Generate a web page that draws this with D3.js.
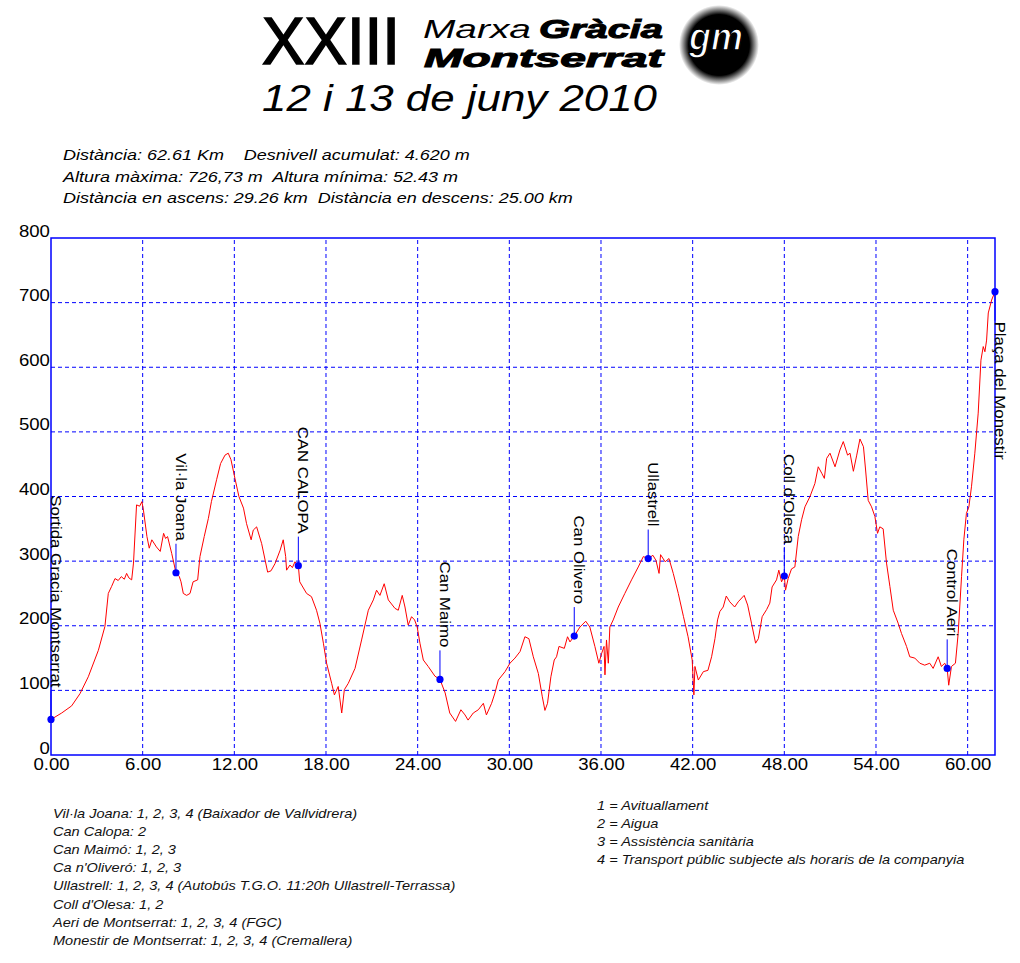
<!DOCTYPE html>
<html>
<head>
<meta charset="utf-8">
<script src="https://cdn.jsdelivr.net/npm/d3@7.9.0/dist/d3.min.js"></script>
<style>
  body { margin: 0; background: #fff; }
  svg text { font-family: Arial, "Liberation Sans", sans-serif; }
</style>
</head>
<body>
<svg id="chart" width="1020" height="963"></svg>
<script>
// profile: distance (km) and altitude (m)
const dist = [0, 0.7, 1.35, 1.9, 2.44, 3.1, 3.53, 3.75, 3.97, 4.19, 4.4, 4.6, 4.8, 4.95, 5.1, 5.28, 5.4, 5.6, 5.8, 5.95,
  6.05, 6.28, 6.43, 6.6, 6.9, 7.15, 7.37, 7.5, 7.63, 7.9, 8.18, 8.4, 8.51, 8.66, 8.88, 9.1, 9.3, 9.6, 9.75, 10.03,
  10.3, 10.5, 10.84, 11.1, 11.39, 11.6, 11.78, 12.04, 12.3, 12.6, 12.8, 13.1, 13.24, 13.46, 13.79, 14.18, 14.4, 14.66, 15.0, 15.2,
  15.36, 15.42, 15.64, 15.8, 15.97, 16.19, 16.28, 16.73, 17.05, 17.38, 17.6, 17.83, 18.04, 18.37, 18.55, 18.8, 19.03, 19.2, 19.46, 19.9,
  20.33, 20.77, 21.1, 21.31, 21.53, 21.81, 22.08, 22.51, 22.73, 22.99, 23.17, 23.38, 23.6, 23.8, 23.97, 24.15, 24.37, 24.69, 25.13, 25.46,
  25.8, 26.1, 26.48, 26.83, 27.1, 27.3, 27.64, 27.97, 28.3, 28.5, 28.84, 29.06, 29.28, 29.72, 30.04, 30.37, 30.7, 31.02, 31.28, 31.57,
  31.9, 32.16, 32.33, 32.5, 32.72, 32.94, 33.09, 33.25, 33.6, 33.81, 33.97, 34.25, 34.62, 35.0, 35.27, 35.6, 35.86, 36.04, 36.2, 36.26,
  36.36, 36.48, 36.58, 36.8, 37.13, 37.56, 38.0, 38.44, 38.77, 39.09, 39.4, 39.6, 39.8, 39.9, 40.2, 40.45, 40.73, 41.06, 41.4, 41.7,
  41.97, 42.08, 42.15, 42.37, 42.7, 43.0, 43.24, 43.46, 43.63, 43.78, 44.0, 44.2, 44.43, 44.75, 44.98, 45.37, 45.6, 45.85, 46.12, 46.3,
  46.55, 46.84, 47.05, 47.2, 47.49, 47.64, 47.82, 48.0, 48.08, 48.25, 48.47, 48.69, 48.91, 49.13, 49.35, 49.68, 50.0, 50.22, 50.45, 50.62,
  50.77, 50.99, 51.32, 51.64, 51.86, 52.14, 52.3, 52.52, 52.74, 52.95, 53.18, 53.32, 53.49, 53.71, 53.93, 54.1, 54.25, 54.47, 54.69, 54.91,
  55.13, 55.45, 55.67, 56.0, 56.21, 56.54, 56.87, 57.19, 57.52, 57.74, 58.07, 58.28, 58.5, 58.66, 58.76, 58.94, 59.2, 59.38, 59.6, 59.75,
  59.92, 60.08, 60.25, 60.47, 60.69, 60.87, 61.02, 61.13, 61.24, 61.35, 61.57, 61.79];
const elev = [55, 65, 76, 95, 121, 162, 199, 250, 261, 273, 270, 276, 272, 281, 274, 271, 297, 387, 385, 392,
  379, 338, 320, 333, 322, 315, 343, 335, 338, 312, 282, 276, 268, 250, 247, 250, 268, 271, 307, 338,
  366, 392, 426, 451, 464, 467, 457, 428, 400, 382, 358, 333, 348, 353, 327, 283, 285, 296, 317, 333,
  307, 286, 294, 290, 299, 293, 268, 250, 245, 224, 204, 173, 142, 111, 93, 106, 65, 101, 111, 134,
  178, 224, 240, 255, 247, 265, 240, 227, 224, 247, 229, 201, 214, 209, 198, 173, 147, 137, 122, 117,
  96, 65, 52, 70, 62, 54, 65, 70, 80, 62, 80, 96, 116, 129, 142, 150, 160, 183, 180, 152,
  126, 90, 69, 80, 121, 147, 152, 168, 165, 183, 175, 184, 198, 207, 198, 168, 142, 157, 168, 124,
  178, 142, 198, 209, 229, 250, 271, 291, 307, 304, 309, 301, 281, 310, 299, 304, 281, 250, 214, 183,
  147, 93, 137, 116, 129, 131, 152, 180, 209, 222, 229, 246, 237, 229, 237, 247, 232, 204, 173, 180,
  214, 225, 235, 260, 271, 286, 268, 277, 255, 273, 288, 291, 338, 364, 384, 400, 420, 446, 436, 428,
  459, 467, 446, 472, 485, 464, 467, 439, 464, 489, 477, 441, 394, 384, 369, 343, 353, 350, 297, 261,
  224, 204, 188, 168, 152, 150, 142, 139, 142, 134, 152, 137, 142, 134, 108, 137, 142, 188, 276, 333,
  374, 384, 415, 467, 529, 611, 632, 624, 642, 684, 704, 717];

// waypoints
const wpNames = ['Sortida Gracia Montserrat', 'Vil·la Joana', 'CAN CALOPA', 'Can Maimo', 'Can Olivero',
  'Ullastrell', "Coll d'Olesa", 'Control Aeri', 'Plaça del Monestir'];
const wpDist = [0, 8.18, 16.19, 25.46, 34.25, 39.09, 48.0, 58.66, 61.79];
const wpElev = [55, 282, 293, 117, 184, 304, 277, 134, 717];

const xTicks = [0, 6, 12, 18, 24, 30, 36, 42, 48, 54, 60];
const yTicks = [0, 100, 200, 300, 400, 500, 600, 700, 800];

const statsLines = [
  'Distància: 62.61 Km    Desnivell acumulat: 4.620 m',
  'Altura màxima: 726,73 m  Altura mínima: 52.43 m',
  'Distància en ascens: 29.26 km  Distància en descens: 25.00 km'
];
const stopsLines = [
  'Vil·la Joana: 1, 2, 3, 4 (Baixador de Vallvidrera)',
  'Can Calopa: 2',
  'Can Maimó: 1, 2, 3',
  "Ca n'Oliveró: 1, 2, 3",
  'Ullastrell: 1, 2, 3, 4 (Autobús T.G.O. 11:20h Ullastrell-Terrassa)',
  "Coll d'Olesa: 1, 2",
  'Aeri de Montserrat: 1, 2, 3, 4 (FGC)',
  'Monestir de Montserrat: 1, 2, 3, 4 (Cremallera)'
];
const keyLines = [
  '1 = Avituallament',
  '2 = Aigua',
  '3 = Assistència sanitària',
  '4 = Transport públic subjecte als horaris de la companyia'
];

const svg = d3.select('#chart');
const blue = '#0000ff';
const wide = 1.2; // the original font is wider than Arial

// ---- title block ----
const head = svg.append('g');
head.append('text').attr('x', 262).attr('y', 63.5).attr('font-size', 66)
  .attr('stroke', '#000').attr('stroke-width', 1.6)
  .attr('textLength', 138).attr('lengthAdjust', 'spacingAndGlyphs').text('XXIII');
head.append('text').attr('x', 423).attr('y', 38).attr('font-size', 26).attr('font-style', 'italic')
  .attr('textLength', 108).attr('lengthAdjust', 'spacingAndGlyphs').text('Marxa');
head.append('text').attr('x', 539).attr('y', 38).attr('font-size', 26).attr('font-style', 'italic')
  .attr('font-weight', 900).attr('stroke', '#000').attr('stroke-width', 1)
  .attr('textLength', 124).attr('lengthAdjust', 'spacingAndGlyphs').text('Gràcia');
head.append('text').attr('x', 424).attr('y', 67).attr('font-size', 26).attr('font-style', 'italic')
  .attr('font-weight', 900).attr('stroke', '#000').attr('stroke-width', 1)
  .attr('textLength', 239).attr('lengthAdjust', 'spacingAndGlyphs').text('Montserrat');
head.append('text').attr('x', 262).attr('y', 111).attr('font-size', 37).attr('font-style', 'italic')
  .attr('textLength', 395).attr('lengthAdjust', 'spacingAndGlyphs').text('12 i 13 de juny 2010');

const grad = svg.append('defs').append('radialGradient').attr('id', 'gmfade');
grad.append('stop').attr('offset', '0%').attr('stop-color', '#000');
grad.append('stop').attr('offset', '76%').attr('stop-color', '#000');
grad.append('stop').attr('offset', '100%').attr('stop-color', '#fff');
head.append('circle').attr('cx', 719).attr('cy', 45).attr('r', 40).attr('fill', 'url(#gmfade)');
head.append('text').attr('x', 716).attr('y', 50).attr('text-anchor', 'middle')
  .attr('font-size', 38).attr('font-weight', 'bold').attr('font-style', 'italic')
  .attr('fill', '#fff').attr('stroke', '#000').attr('stroke-width', 1.5)
  .attr('textLength', 54).attr('lengthAdjust', 'spacingAndGlyphs').text('gm');

// ---- stats ----
statsLines.forEach((s, i) => {
  svg.append('text')
    .attr('transform', `translate(63,${160 + i * 21.5}) scale(${wide},1)`)
    .attr('font-size', 15).attr('font-style', 'italic')
    .style('white-space', 'pre').text(s);
});

// ---- plot ----
const x = d3.scaleLinear().domain([0, 61.79]).range([51, 995]);
const y = d3.scaleLinear().domain([0, 800]).range([755, 238]);

const grid = svg.append('g').attr('stroke', blue).attr('stroke-width', 1)
  .attr('stroke-dasharray', '4,3').attr('fill', 'none');
grid.selectAll('.h').data(yTicks.filter(v => v > 0 && v < 800)).join('line')
  .attr('x1', x(0)).attr('x2', x(61.79)).attr('y1', d => y(d)).attr('y2', d => y(d));
grid.selectAll('.v').data(xTicks.filter(v => v > 0)).join('line')
  .attr('x1', d => x(d)).attr('x2', d => x(d)).attr('y1', y(0)).attr('y2', y(800));

const profile = dist.map((d, i) => [d, elev[i]]);
svg.append('path').datum(profile)
  .attr('d', d3.line().x(d => x(d[0])).y(d => y(d[1])))
  .attr('fill', 'none').attr('stroke', '#ff0000').attr('stroke-width', 1);

svg.append('rect').attr('x', x(0)).attr('y', y(800))
  .attr('width', x(61.79) - x(0)).attr('height', y(0) - y(800))
  .attr('fill', 'none').attr('stroke', blue).attr('stroke-width', 1.5);

const xAxis = svg.append('g').attr('transform', `translate(0,${y(0)})`)
  .call(d3.axisBottom(x).tickValues(xTicks).tickFormat(d3.format('.2f')).tickSize(0).tickPadding(4));
const yAxis = svg.append('g').attr('transform', `translate(${x(0)},0)`)
  .call(d3.axisLeft(y).tickValues(yTicks).tickFormat(d3.format('d')).tickSize(0).tickPadding(1));
[xAxis, yAxis].forEach(a => {
  a.select('.domain').remove();
  a.selectAll('text').attr('font-size', 16).attr('fill', '#000')
    .attr('font-family', 'Arial, "Liberation Sans", sans-serif')
    .attr('transform', `scale(1.16,1)`);
});
yAxis.selectAll('text').attr('dy', '-2');

// ---- waypoints ----
const stem = 29;
const wp = svg.append('g');
wpNames.forEach((name, i) => {
  const px = x(wpDist[i]), py = y(wpElev[i]);
  const t = wp.append('text').attr('font-size', 14).attr('fill', '#000')
    .style('white-space', 'pre').text(name);
  const len = t.node().getComputedTextLength() * 1.2;
  const above = py - stem - 3 - len > y(800);
  const ty = above ? py - stem - 3 : py + stem + 1;
  t.attr('text-anchor', above ? 'end' : 'start')
    .attr('transform', `translate(${px},${ty}) rotate(90) scale(1.2,1)`);
  wp.append('line').attr('x1', px).attr('x2', px)
    .attr('y1', py).attr('y2', above ? py - stem : py + stem)
    .attr('stroke', blue).attr('stroke-width', 1);
  wp.append('circle').attr('cx', px).attr('cy', py).attr('r', 3.6).attr('fill', blue);
});

// ---- notes under the chart ----
stopsLines.forEach((s, i) => {
  svg.append('text').attr('transform', `translate(53,${818 + i * 18.1}) scale(1.12,1)`)
    .attr('font-size', 13).attr('font-style', 'italic').attr('fill', '#111').text(s);
});
keyLines.forEach((s, i) => {
  svg.append('text').attr('transform', `translate(597,${810 + i * 18.1}) scale(1.12,1)`)
    .attr('font-size', 13).attr('font-style', 'italic').attr('fill', '#111').text(s);
});
</script>
</body>
</html>
